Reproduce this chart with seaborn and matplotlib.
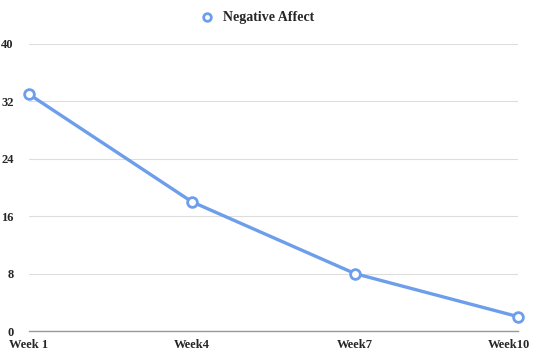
import matplotlib
matplotlib.use('Agg')
import matplotlib.pyplot as plt
import matplotlib.transforms as mtransforms
from matplotlib.lines import Line2D
import seaborn as sns
import pandas as pd

weeks = ['Week 1', 'Week4', 'Week7', 'Week10']
negative_affect = [33, 18, 8, 2]
y_ticks = [0, 8, 16, 24, 32, 40]

LINE = '#6d9eeb'

sns.set_style('white')
plt.rcParams['font.family'] = ['Liberation Serif', 'DejaVu Serif']
plt.rcParams['font.weight'] = 'bold'

df = pd.DataFrame({'pos': range(len(weeks)), 'week': weeks, 'value': negative_affect})

fig = plt.figure(figsize=(5.39, 3.52), dpi=100)
ax = fig.add_axes([29 / 539, 1 - 331 / 352, (518 - 29) / 539, (331 - 44) / 352])

sns.lineplot(data=df, x='pos', y='value', ax=ax, color=LINE, lw=2.4,
             marker='o', markersize=7, markerfacecolor='white',
             markeredgecolor=LINE, markeredgewidth=2, legend=False,
             clip_on=False, zorder=3)

ax.set_xlim(0, len(weeks) - 1)
ax.set_ylim(0, 40)
ax.set_yticks(y_ticks)
ax.set_yticklabels([str(t) for t in y_ticks], fontsize=9, fontweight='bold')
ax.set_xticks(range(len(weeks)))
ax.set_xticklabels(weeks, fontsize=9, fontweight='bold')
ax.tick_params(axis='both', length=0)
ax.tick_params(axis='y', pad=11)
ax.tick_params(axis='x', pad=6)

# last label nudged left so it stays inside the canvas
lbl = ax.get_xticklabels()[-1]
lbl.set_transform(lbl.get_transform() + mtransforms.ScaledTranslation(-9 / 100, 0, fig.dpi_scale_trans))

ax.grid(axis='y', color='#dddddd', lw=0.8)
ax.grid(axis='x', visible=False)
for s in ['top', 'right', 'left']:
    ax.spines[s].set_visible(False)
ax.spines['bottom'].set_color('#999999')
ax.spines['bottom'].set_linewidth(1)
ax.set_xlabel('')
ax.set_ylabel('')

handle = Line2D([], [], ls='none', marker='o', markersize=5.5, markerfacecolor='white',
                markeredgecolor=LINE, markeredgewidth=2)
fig.legend([handle], ['Negative Affect'], loc='center', bbox_to_anchor=(257 / 539, 1 - 18 / 352),
           frameon=False, handlelength=1.0, handletextpad=0.7,
           prop={'weight': 'bold', 'size': 10})

fig.savefig('out.png', dpi=100)
